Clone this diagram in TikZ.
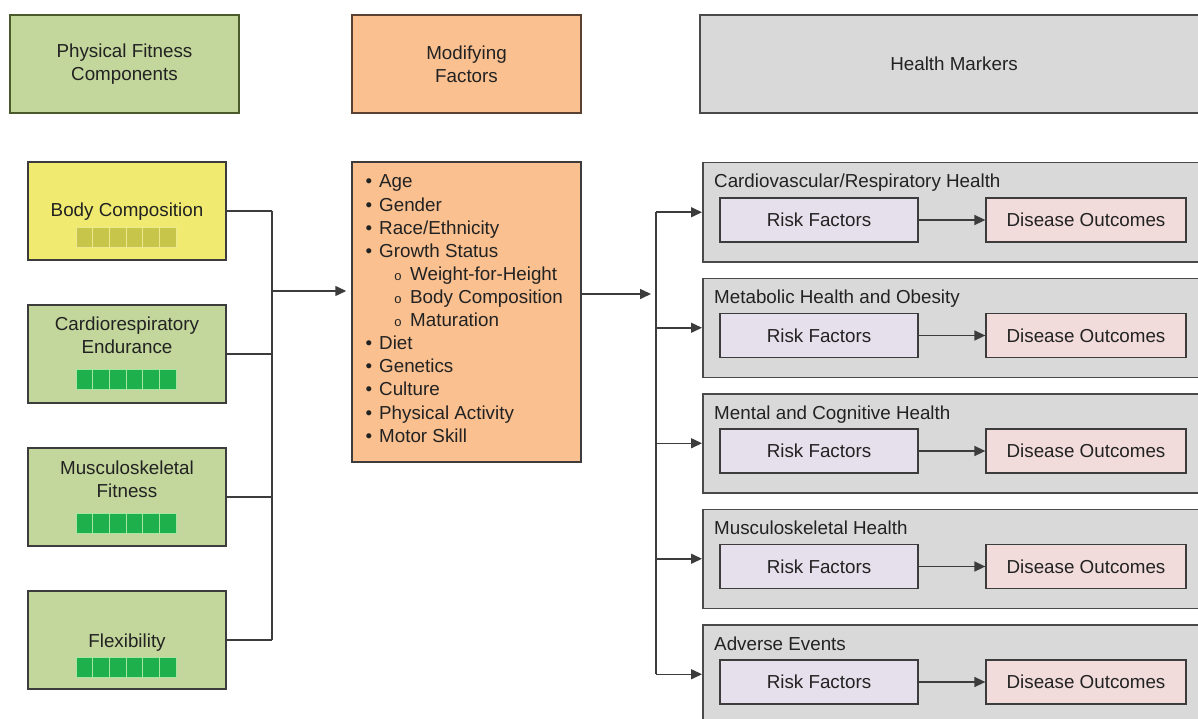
\documentclass[tikz,border=0pt]{standalone}
\usepackage{fontspec}
\setmainfont{Liberation Sans}
\usetikzlibrary{arrows.meta}
\definecolor{grnF}{HTML}{C3D69B}
\definecolor{grnD}{HTML}{4A5A2A}
\definecolor{ylwF}{HTML}{F0EB70}
\definecolor{orgF}{HTML}{FAC090}
\definecolor{orgD}{HTML}{5A4030}
\definecolor{gryF}{HTML}{D9D9D9}
\definecolor{gryD}{HTML}{4A4A4A}
\definecolor{lavF}{HTML}{E6E0EC}
\definecolor{pnkF}{HTML}{F2DCDB}
\definecolor{bd}{HTML}{3C3C3C}
\definecolor{txtc}{HTML}{222222}
\definecolor{sqG}{HTML}{1DB04B}
\definecolor{sqGl}{HTML}{A6E6A0}
\definecolor{sqY}{HTML}{C8C64A}
\definecolor{sqYl}{HTML}{ECE98E}
\newcommand{\fs}{\fontsize{18.8}{23}\selectfont}
\begin{document}
\begin{tikzpicture}[x=1pt,y=-1pt,
  txt/.style={font=\fs, text=txtc, inner sep=0pt},
  hdr/.style={rectangle, line width=1.5pt, minimum height=98pt, align=center, font=\fs, text=txtc},
  fitbox/.style={rectangle, draw=bd, line width=1.5pt, fill=grnF, minimum width=198pt, minimum height=98pt},
  gbox/.style={rectangle, draw=gryD, fill=gryF, line width=1.5pt, minimum width=520pt, minimum height=99pt, anchor=north west},
  rbox/.style={rectangle, draw=bd, fill=lavF, line width=1.3pt, minimum width=198pt, minimum height=44pt, font=\fs, text=txtc},
  dbox/.style={rectangle, draw=bd, fill=pnkF, line width=1.3pt, minimum width=200pt, minimum height=44pt, font=\fs, text=txtc},
  ln/.style={draw=bd, line width=1.5pt},
  arr/.style={ln, -{Triangle[length=11pt,width=10pt]}},
  sqgreen/.style={fill=sqG, draw=sqGl, line width=0.9pt},
  sqyellow/.style={fill=sqY, draw=sqYl, line width=0.9pt}]
\useasboundingbox (0,0) rectangle (1198,719);
% headers
\node[hdr, fill=grnF, draw=grnD, minimum width=229pt] (hA) at (124.5,64) {Physical Fitness\\Components};
\node[hdr, fill=orgF, draw=orgD, minimum width=229pt] (hB) at (466.5,64) {Modifying\\Factors};
\node[hdr, fill=gryF, draw=gryD, minimum width=520pt] (hC) at (960,64) {\hspace*{-12pt}Health Markers};
% fitness components
\node[fitbox, fill=ylwF] (bc) at (127,211) {};
\node[fitbox] (cr) at (127,354) {};
\node[fitbox] (ms) at (127,497) {};
\node[fitbox] (fx) at (127,640) {};
\node[txt] (bcT) at (127,212) {Body Composition};
\node[txt, align=center] (crT) at (127,335) {Cardiorespiratory\\Endurance};
\node[txt, align=center] (msT) at (127,479) {Musculoskeletal\\Fitness};
\node[txt] (fxT) at (127,643) {Flexibility};
\foreach \i in {0,...,5} {
  \draw[sqyellow] (76+\i*16.67,227) rectangle ++(16.67,20);
  \draw[sqgreen] (76+\i*16.67,369) rectangle ++(16.67,20);
  \draw[sqgreen] (76+\i*16.67,513) rectangle ++(16.67,20);
  \draw[sqgreen] (76+\i*16.67,657) rectangle ++(16.67,20);
}
% left bus
\coordinate (busL) at (272,291);
\foreach \n in {bc,cr,ms,fx} \draw[ln] (\n.east) -- (\n.east -| busL);
\draw[ln] (bc.east -| busL) -- (fx.east -| busL);
% modifying factors
\node[rectangle, draw=bd, fill=orgF, line width=1.5pt, minimum width=229pt, minimum height=300pt] (ob) at (466.5,312) {};
\draw[arr, shorten >=5pt] (busL) -- (busL -| ob.west);
\foreach \t [count=\i from 0] in {Age,Gender,Race/Ethnicity,Growth Status} {
  \node[txt, anchor=base] (bu\i) at (369,188+23.1*\i) {•};
  \node[txt, anchor=base west] (li\i) at (379,188+23.1*\i) {\t};
}
\foreach \t [count=\i from 4] in {Weight-for-Height,Body Composition,Maturation} {
  \node[txt, anchor=base, font=\fontsize{13}{15}\selectfont] (bu\i) at (398,188+23.1*\i) {o};
  \node[txt, anchor=base west] (li\i) at (410,188+23.1*\i) {\t};
}
\foreach \t [count=\i from 7] in {Diet,Genetics,Culture,Physical Activity,Motor Skill} {
  \node[txt, anchor=base] (bu\i) at (369,188+23.1*\i) {•};
  \node[txt, anchor=base west] (li\i) at (379,188+23.1*\i) {\t};
}
% health markers
\coordinate (busR) at (656,294);
\draw[arr, shorten >=5pt] (ob.east |- busR) -- (busR);
\foreach \i/\top in {1/162,2/277.5,3/393,4/508.5,5/624} {
  \node[gbox] (g\i) at (702,\top) {};
  \node[rbox] (r\i) at (819,\top+58) {Risk Factors};
  \node[dbox] (d\i) at (1086,\top+58) {Disease Outcomes};
  \draw[arr] (r\i) -- (d\i);
  \draw[arr] (g\i.west -| busR) -- (g\i.west);
}
\draw[ln] (g1.west -| busR) -- (g5.west -| busR);
\node[txt, anchor=base west] (t1) at (714,188) {Cardiovascular/Respiratory Health};
\node[txt, anchor=base west] (t2) at (714,303.5) {Metabolic Health and Obesity};
\node[txt, anchor=base west] (t3) at (714,419) {Mental and Cognitive Health};
\node[txt, anchor=base west] (t4) at (714,534.5) {Musculoskeletal Health};
\node[txt, anchor=base west] (t5) at (714,650) {Adverse Events};
\end{tikzpicture}
\end{document}
